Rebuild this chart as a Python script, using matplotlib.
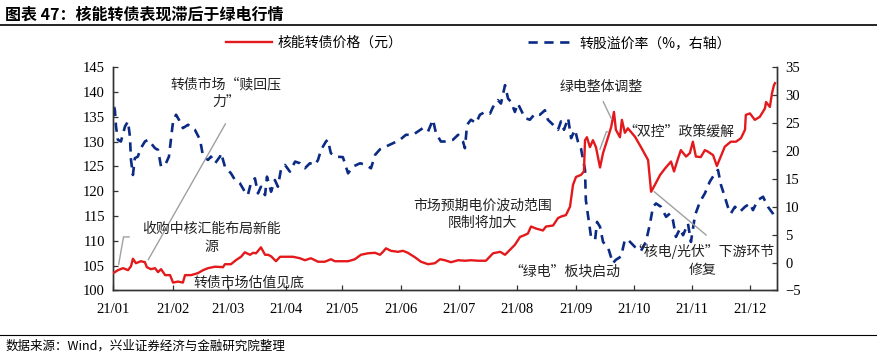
import matplotlib
matplotlib.use("Agg")
import matplotlib.pyplot as plt
from matplotlib.lines import Line2D

plt.rcParams['font.family'] = ['Noto Sans CJK SC', 'DejaVu Sans']

# ---------------- data ----------------
# x: position along the year (trading-day like index, 0 = start of Jan 2021)
tick_pos = [0, 21.7, 42.2, 63.1, 83.8, 105.3, 126.5, 148.0, 169.6, 190.7, 212.1, 233.2]
tick_labels = ["21/01", "21/02", "21/03", "21/04", "21/05", "21/06",
               "21/07", "21/08", "21/09", "21/10", "21/11", "21/12"]

price_x = [0, 1.7, 3.6, 5.4, 6.5, 7.2, 8.3, 10.1, 11.6, 12.3, 13.8, 15.3, 16.4, 17.5, 19.0,
           20.8, 21.9, 23.7, 25.5, 26.3, 28.5, 31.0, 32.9, 34.7, 37.3, 40.2, 40.9, 43.1, 44.9,
           46.8, 48.2, 50.1, 51.2, 52.3, 54.1, 55.6, 56.7, 57.8, 59.6, 61.1, 62.9, 65.8, 68.4,
           70.2, 72.4, 75.0, 77.5, 79.7, 81.2, 86.0, 88.5, 90.7, 93.3, 95.9, 97.7, 98.8, 99.9,
           101.7, 104.3, 106.1, 107.9, 110.5, 112.7, 115.3, 117.8, 119.7, 121.5, 123.7, 126.3,
           128.8, 131.0, 133.6, 136.5, 139.1, 141.7, 143.5, 145.3, 147.1, 149.0, 150.8, 151.9,
           153.0, 154.8, 157.4, 158.5, 161.1, 162.9, 164.0, 165.8, 167.3, 168.4, 169.5, 171.3,
           172.4, 172.8, 173.5, 174.6, 175.7, 176.8, 178.3, 179.4, 181.3, 182.4, 183.4, 184.1,
           185.6, 186.3, 187.4, 188.5, 191.1, 193.3, 195.9, 197.0, 198.4, 200.3, 202.1, 204.3,
           205.4, 206.8, 207.9, 209.8, 211.2, 212.3, 213.4, 215.2, 216.7, 217.8, 219.7, 221.1,
           222.2, 224.0, 226.2, 228.1, 229.9, 231.4, 231.7, 233.2, 235.0, 236.8, 238.7, 239.1,
           240.5, 241.3, 242.0, 242.4]
price = [103.5, 104.1, 104.5, 104.1, 104.9, 106.4, 105.5, 105.9, 105.7, 104.7, 104.3, 104.5,
         103.7, 104.3, 103.1, 103.1, 101.6, 101.8, 101.6, 103.1, 103.1, 103.5, 104.1, 104.5,
         104.8, 104.7, 105.3, 105.3, 106.1, 106.8, 107.7, 107.2, 107.6, 107.5, 108.7, 107.2,
         107.2, 106.9, 105.9, 106.8, 106.8, 106.8, 106.5, 106.1, 106.5, 105.8, 105.8, 106.3,
         105.9, 105.9, 106.3, 107.2, 107.5, 107.6, 107.2, 107.8, 108.5, 108.0, 107.8, 108.0,
         107.6, 106.7, 105.8, 105.3, 105.5, 106.3, 106.1, 105.7, 106.1, 106.0, 106.1, 106.0,
         106.0, 107.5, 107.8, 107.2, 108.2, 109.2, 110.8, 111.2, 111.5, 112.9, 112.5, 112.1,
         112.9, 113.1, 114.6, 114.9, 115.2, 116.9, 121.3, 122.9, 123.3, 124.0, 130.3, 130.9,
         128.9, 130.3, 128.9, 124.8, 127.7, 131.0, 133.0, 136.0, 132.4, 130.9, 134.4, 131.8,
         132.7, 131.0, 128.9, 126.3, 119.9, 121.3, 123.3, 124.6, 126.0, 124.0, 126.5, 128.3,
         127.0, 127.7, 130.0, 127.0, 126.9, 128.3, 128.0, 127.3, 125.1, 126.6, 129.0, 130.0,
         130.0, 130.7, 132.4, 135.4, 135.7, 134.4, 135.0, 136.7, 138.0, 137.0, 139.8, 141.4,
         141.8]

premium_x = [0.3, 0.6, 1.0, 1.7, 2.8, 4.3, 5.4, 6.1, 6.5, 7.2, 7.9, 9.0, 10.1, 11.6, 12.7,
             13.8, 15.3, 16.4, 17.5, 19.3, 20.4, 21.1, 21.9, 23.0, 24.4, 25.5, 27.4, 29.9,
             31.8, 32.9, 34.7, 35.8, 37.3, 39.1, 39.5, 40.9, 43.1, 44.6, 46.4, 48.2, 49.3,
             50.4, 51.9, 53.0, 54.1, 55.6, 56.3, 57.8, 59.2, 60.3, 61.4, 62.9, 64.7, 66.6,
             68.4, 70.2, 72.0, 73.9, 75.0, 76.1, 77.9, 78.6, 79.7, 81.5, 84.1, 86.0, 87.8,
             90.4, 92.6, 94.4, 95.9, 97.7, 99.9, 102.5, 105.0, 107.2, 109.8, 111.6, 113.4,
             115.3, 117.1, 118.2, 120.0, 121.5, 124.4, 126.3, 128.1, 128.8, 129.6, 131.0,
             132.9, 134.3, 136.2, 138.0, 139.1, 140.9, 142.0, 143.5, 144.6, 145.7, 147.1,
             148.2, 150.8, 152.6, 154.5, 156.3, 158.1, 159.2, 161.1, 162.9, 164.0, 165.1,
             166.6, 167.7, 169.1, 170.2, 171.3, 172.8, 173.1, 174.3, 175.0, 176.5, 177.2,
             178.3, 179.4, 181.3, 183.0, 184.1, 186.0, 187.4, 188.5, 191.1, 193.3, 195.1,
             196.6, 197.7, 198.8, 200.6, 202.5, 203.9, 205.0, 206.1, 207.6, 208.7, 210.5,
             211.6, 213.1, 214.9, 216.7, 218.5, 220.4, 221.5, 222.6, 224.0, 225.1, 226.2,
             227.7, 229.5, 231.4, 233.2, 234.3, 236.1, 238.0, 239.8, 241.6, 242.4]
premium = [27.9, 27.3, 24.4, 22.0, 21.7, 24.4, 25.3, 22.6, 18.4, 15.7, 18.7, 19.0, 20.5,
           21.7, 22.0, 21.4, 20.5, 20.2, 17.2, 17.8, 19.0, 22.0, 25.3, 26.5, 25.3, 24.1,
           24.7, 23.8, 22.0, 19.0, 18.4, 19.0, 17.8, 19.0, 19.6, 17.2, 16.0, 14.8, 14.2,
           12.7, 12.1, 14.2, 15.1, 12.4, 13.6, 12.1, 15.4, 12.7, 14.8, 13.6, 16.6, 17.5,
           16.3, 18.1, 17.8, 16.9, 17.8, 17.5, 18.4, 20.2, 21.7, 22.0, 19.6, 19.0, 18.9,
           16.0, 17.2, 17.8, 17.5, 16.9, 19.3, 20.3, 20.8, 21.4, 22.0, 22.9, 22.9, 23.5,
           24.1, 23.5, 25.6, 23.2, 21.7, 21.7, 22.0, 22.9, 21.7, 20.5, 24.7, 25.6, 25.0,
           26.5, 27.0, 26.7, 27.9, 29.1, 28.5, 31.8, 29.4, 28.8, 27.0, 28.5, 25.9, 25.6,
           26.7, 26.5, 27.3, 25.6, 24.7, 23.8, 25.3, 23.8, 25.9, 22.3, 23.8, 21.7, 20.5,
           16.6, 11.2, 7.0, 4.6, 4.1, 7.3, 6.4, 3.7, 2.6, -0.1, 0.5, 1.1, 4.1, 4.1, 2.8,
           2.1, 3.7, 7.0, 10.0, 10.6, 10.0, 8.2, 8.8, 7.6, 4.6, 6.1, 4.9, 7.0, 3.7, 8.5,
           10.9, 12.4, 14.5, 16.0, 16.6, 13.9, 11.8, 10.0, 8.8, 10.0, 9.1, 10.0, 10.6, 9.4,
           11.2, 11.8, 10.0, 8.8, 7.6]

left_ticks = [100, 105, 110, 115, 120, 125, 130, 135, 140, 145]
right_ticks = [-5, 0, 5, 10, 15, 20, 25, 30, 35]

RED = "#E3191C"
NAVY = "#0B2A84"
GRAY = "#A0A0A0"
SERIF = "Liberation Serif"

fig = plt.figure(figsize=(8.78, 3.56), dpi=100)
ax = fig.add_axes([0.129, 0.184, 0.7556, 0.627])
ax2 = ax.twinx()

l1, = ax.plot(price_x, price, color=RED, lw=1.7, zorder=3, label="核能转债价格（元）")
l2, = ax2.plot(premium_x, premium, color=NAVY, lw=1.9, linestyle=(0, (3.5, 2.5)),
               label="转股溢价率（%，右轴）")
ax.set_zorder(ax2.get_zorder() + 1)
ax.patch.set_visible(False)

ax.set_xlim(0, 243)
ax.set_ylim(100, 145)
ax2.set_ylim(-5, 35)
ax.set_xticks(tick_pos)
ax.set_xticklabels(tick_labels)
ax.set_yticks(left_ticks)
ax2.set_yticks(right_ticks)

for a in (ax, ax2):
    a.spines['top'].set_visible(False)
    for s in ('left', 'right', 'bottom'):
        a.spines[s].set_color("#333333")
        a.spines[s].set_linewidth(1.0)
    a.tick_params(direction='in', length=3.5, width=0.9, color="#333333",
                  labelsize=10.5, pad=6)
    for lab in a.get_xticklabels() + a.get_yticklabels():
        lab.set_fontfamily(SERIF)
ax.tick_params(axis='x', pad=9)

# legend
fig.legend(handles=[l1, l2], loc='center', bbox_to_anchor=(0.545, 0.879), ncol=2,
           frameon=False, prop={'family': ['Noto Sans CJK SC'], 'size': 10},
           handlelength=3.3, handletextpad=0.4, columnspacing=9.0)

# annotations
afs = 10
tkw = dict(ha='center', va='center', fontsize=afs, linespacing=1.35, color="#222222")
arw = dict(arrowstyle='-', color=GRAY, lw=1.0)

ax.annotate("", xy=(12.3, 105.7), xytext=(41.6, 134.1), arrowprops=arw)
ax.text(41.4, 139.8, "转债市场“赎回压\n力”", **tkw)

ax.annotate("", xy=(1.8, 104.7), xytext=(6.9, 110.8),
            arrowprops=dict(arw, connectionstyle="angle,angleA=0,angleB=80,rad=0"))
ax.text(35.9, 110.6, "收购中核汇能布局新能\n源", **tkw)

ax.text(49.7, 101.5, "转债市场估值见底", **tkw)
ax.text(135.4, 115.4, "市场预期电价波动范围\n限制将加大", **tkw)
ax.text(165.5, 103.9, "“绿电”板块启动", **tkw)

ax.annotate("", xy=(183.0, 134.0), xytext=(179.0, 138.6), arrowprops=arw)
ax.text(178.7, 141.0, "绿电整体调整", **tkw)

ax.annotate("", xy=(177.9, 127.9), xytext=(182.3, 132.0),
            arrowprops=dict(arw, connectionstyle="angle,angleA=0,angleB=70,rad=0"))
ax.text(207.3, 132.0, "“双控”政策缓解", **tkw)

ax.annotate("", xy=(197.3, 120.3), xytext=(218.0, 110.8), arrowprops=arw)
ax.text(216.0, 106.1, "“核电/光伏”下游环节\n修复", **tkw)

# title, rules, source
fig.text(0.006, 1 - 15 / 356, "图表 47：核能转债表现滞后于绿电行情", fontsize=11.5,
         fontweight='bold', va='center', ha='left')
fig.add_artist(Line2D([0, 1], [1 - 25 / 356, 1 - 25 / 356], color='black', lw=1.2,
                      transform=fig.transFigure))
fig.add_artist(Line2D([0, 1], [1 - 335 / 356, 1 - 335 / 356], color='black', lw=0.8,
                      transform=fig.transFigure))
fig.text(0.006, 1 - 346 / 356, "数据来源：Wind，兴业证券经济与金融研究院整理",
         fontsize=9, va='center', ha='left')

fig.savefig("out.png", dpi=100)
